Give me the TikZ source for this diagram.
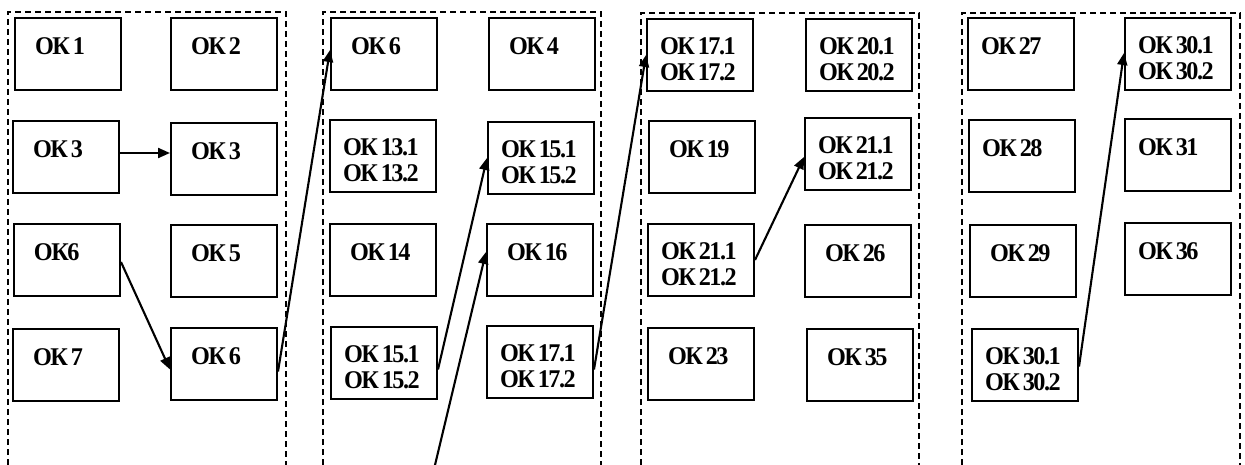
\documentclass[tikz,border=0pt]{standalone}
\usepackage{fontspec}
\newfontfamily\okfont{Liberation Serif}[FakeStretch=0.95,LetterSpace=-6]
\newcommand\okk[1]{ОК\kern3pt#1}
\usetikzlibrary{arrows.meta}
\begin{document}
\begin{tikzpicture}[x=1pt,y=-1pt,
  box/.style={draw,line width=2pt,minimum width=106pt,minimum height=72pt,
    inner ysep=0pt,inner xsep=13pt,text width=80pt,align=left,
    font=\okfont\bfseries\fontsize{25.5}{26}\selectfont,
    text height=10pt,text depth=9pt},
  ind/.style={inner xsep=20pt,text width=66pt},
  two/.style={text depth=11pt},
  frame/.style={dash pattern=on 6pt off 4pt,line width=1.6pt},
  arr/.style={line width=2.1pt,-{Triangle[length=12pt,width=10pt]}}]
\useasboundingbox (0,0) rectangle (1245,465);
% frames
\draw[frame] (8,465) -- (8,12) -- (286,12) -- (286,465);
\draw[frame] (323,465) -- (323,12) -- (601,12) -- (601,465);
\draw[frame] (641,465) -- (641,13) -- (919,13) -- (919,465);
\draw[frame] (962,465) -- (962,13) -- (1240,13) -- (1240,465);
% panel 1
\node[box,ind] (ok1)  at (68,54) {\okk{1}};
\node[box,ind] (ok2)  at (224,54) {\okk{2}};
\node[box,ind] (ok3a) at (66,157) {\okk{3}};
\node[box,ind] (ok3b) at (224,159) {\okk{3}};
\node[box,ind] (ok6a) at (67,260) {ОК6};
\node[box,ind] (ok5)  at (224,261) {\okk{5}};
\node[box,ind] (ok7)  at (66,365) {\okk{7}};
\node[box,ind] (ok6b) at (224,364) {\okk{6}};
% panel 2
\node[box,ind] (p2ok6) at (384,54) {\okk{6}};
\node[box,ind] (ok4)   at (542,54) {\okk{4}};
\node[box,two] (ok13)  at (383,156) {\okk{13.1}\\\okk{13.2}};
\node[box,two] (ok15a) at (541,158) {\okk{15.1}\\\okk{15.2}};
\node[box,ind] (ok14)  at (383,260) {\okk{14}};
\node[box,ind] (ok16)  at (540,260) {\okk{16}};
\node[box,two] (ok15b) at (384,363) {\okk{15.1}\\\okk{15.2}};
\node[box,two] (ok17a) at (540,362) {\okk{17.1}\\\okk{17.2}};
% panel 3
\node[box,two] (ok17b) at (700,55) {\okk{17.1}\\\okk{17.2}};
\node[box,two] (ok20)  at (859,55) {\okk{20.1}\\\okk{20.2}};
\node[box,ind] (ok19)  at (702,157) {\okk{19}};
\node[box,two] (ok21a) at (858,154) {\okk{21.1}\\\okk{21.2}};
\node[box,two] (ok21b) at (701,260) {\okk{21.1}\\\okk{21.2}};
\node[box,ind] (ok26)  at (858,261) {\okk{26}};
\node[box,ind] (ok23)  at (701,364) {\okk{23}};
\node[box,ind] (ok35)  at (860,365) {\okk{35}};
% panel 4
\node[box] (ok27)  at (1021,54) {\okk{27}};
\node[box,two] (ok30a) at (1178,54) {\okk{30.1}\\\okk{30.2}};
\node[box] (ok28)  at (1022,156) {\okk{28}};
\node[box] (ok31)  at (1178,155) {\okk{31}};
\node[box,ind] (ok29)  at (1023,261) {\okk{29}};
\node[box] (ok36)  at (1178,259) {\okk{36}};
\node[box,two] (ok30b) at (1025,365) {\okk{30.1}\\\okk{30.2}};
% connectors
\coordinate (s1) at ([yshift=4pt]ok3a.east);
\draw[arr] (s1) -- (s1 -| ok3b.west);
\draw[arr] ([yshift=-2pt]ok6a.east) -- ([yshift=-5.5pt]ok6b.west);
\draw[arr] ([yshift=-7.5pt]ok6b.east) -- ([yshift=4pt]p2ok6.west);
\draw[arr] ([yshift=-6.5pt]ok15b.east) -- (ok15a.west);
\coordinate (src) at (435,465);
\draw[arr] (src) -- ([yshift=8pt]ok16.west);
\draw[arr] ([yshift=-7.5pt]ok17a.east) -- (ok17b.west);
\draw[arr] (ok21b.east) -- ([yshift=-3pt]ok21a.west);
\draw[arr] ([yshift=-1.5pt]ok30b.east) -- ([yshift=1pt]ok30a.west);
\end{tikzpicture}
\end{document}
